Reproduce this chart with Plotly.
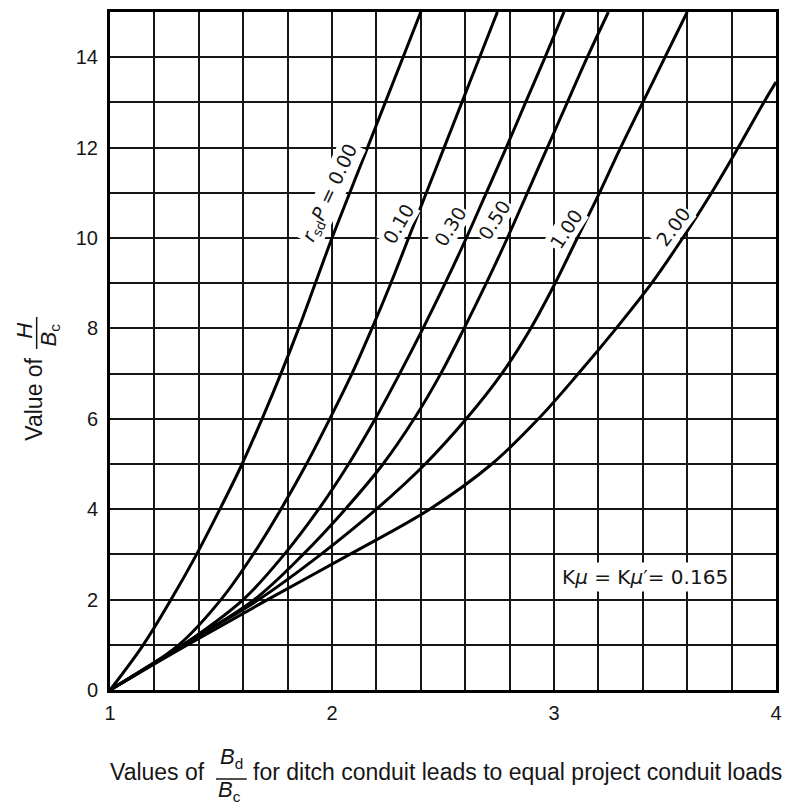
import plotly.graph_objects as go

# H/Bc levels (y) at which x = Bd/Bc was read for each curve
y_levels = [0, 1, 2, 3, 4, 5, 6, 7, 8, 9, 10, 11, 12, 13, 14, 15]

x_000 = [1.00, 1.15, 1.275, 1.39, 1.495, 1.595, 1.685, 1.77, 1.85, 1.925, 2.00, 2.08, 2.16, 2.24, 2.32, 2.40]
x_010 = [1.00, 1.31, 1.50, 1.645, 1.77, 1.885, 1.99, 2.09, 2.18, 2.265, 2.345, 2.425, 2.505, 2.585, 2.665, 2.745]
x_030 = [1.00, 1.33, 1.60, 1.785, 1.94, 2.075, 2.195, 2.305, 2.41, 2.51, 2.605, 2.695, 2.785, 2.872, 2.96, 3.045]
x_050 = [1.00, 1.33, 1.65, 1.87, 2.06, 2.23, 2.37, 2.49, 2.595, 2.695, 2.79, 2.88, 2.97, 3.06, 3.15, 3.245]
x_100 = [1.00, 1.33, 1.67, 1.95, 2.20, 2.42, 2.605, 2.765, 2.895, 3.005, 3.105, 3.205, 3.30, 3.40, 3.50, 3.60]
y_200 = [0, 1, 2, 3, 4, 5, 6, 7, 8, 9, 10, 11, 12, 13, 13.45]
x_200 = [1.00, 1.35, 1.71, 2.08, 2.44, 2.72, 2.93, 3.11, 3.28, 3.44, 3.58, 3.71, 3.83, 3.945, 4.00]

curves = [
    (x_000, y_levels),
    (x_010, y_levels),
    (x_030, y_levels),
    (x_050, y_levels),
    (x_100, y_levels),
    (x_200, y_200),
]

label_text = ["<i>r</i><sub>sd</sub><i>P</i> = 0.00", "0.10", "0.30", "0.50", "1.00", "2.00"]
label_x = [1.995, 2.30, 2.53, 2.73, 3.055, 3.535]
label_y = [11.0, 10.3, 10.25, 10.4, 10.2, 10.25]
label_angle = [-65, -60, -58, -58, -57, -53]

x_ticks = [1, 2, 3, 4]
y_ticks = [0, 2, 4, 6, 8, 10, 12, 14]

FONT = "Liberation Sans, Arial, sans-serif"
LFONT = "DejaVu Sans, sans-serif"
INK = "#161616"

fig = go.Figure()
for xs, ys in curves:
    fig.add_trace(go.Scatter(x=xs, y=ys, mode="lines",
                             line=dict(color="black", width=3, shape="spline", smoothing=1.0),
                             showlegend=False, hoverinfo="skip"))

for t, lx, ly, ang in zip(label_text, label_x, label_y, label_angle):
    fig.add_annotation(x=lx, y=ly, text=t, textangle=ang, showarrow=False,
                       font=dict(family=LFONT, size=19, color=INK),
                       bgcolor="white", borderpad=1)

fig.add_annotation(x=3.41, y=2.5, text="K<i>\u03bc</i> = K<i>\u03bc</i>\u2032= 0.165",
                   showarrow=False, font=dict(family=LFONT, size=20, color=INK),
                   bgcolor="white", borderpad=2)

W, H = 791, 805
L, R, T, B = 110, 9, 12, 115
pw, ph = W - L - R, H - T - B


def px(xp):
    return (xp - L) / pw


def py(yp):
    return (H - B - yp) / ph


tfont = dict(family=FONT, size=23, color=INK)
ffont = dict(family=FONT, size=22, color=INK)
# x-axis title pieces
fig.add_annotation(xref="paper", yref="paper", x=px(208), y=py(772), xanchor="right", yanchor="middle",
                   text="Values of", showarrow=False, font=tfont)
fig.add_annotation(xref="paper", yref="paper", x=px(233), y=py(758), xanchor="center", yanchor="middle",
                   text="<i>B</i><sub>d</sub>", showarrow=False, font=ffont)
fig.add_annotation(xref="paper", yref="paper", x=px(231), y=py(791), xanchor="center", yanchor="middle",
                   text="<i>B</i><sub>c</sub>", showarrow=False, font=ffont)
fig.add_shape(type="line", xref="paper", yref="paper", x0=px(217), x1=px(248), y0=py(779), y1=py(779),
              line=dict(color=INK, width=1.5))
fig.add_annotation(xref="paper", yref="paper", x=px(252), y=py(772), xanchor="left", yanchor="middle",
                   text="for ditch conduit leads to equal project conduit loads", showarrow=False, font=tfont)

# y-axis title pieces
fig.add_annotation(xref="paper", yref="paper", x=px(33), y=py(399), xanchor="center", yanchor="middle",
                   text="Value of", textangle=-90, showarrow=False, font=tfont)
fig.add_annotation(xref="paper", yref="paper", x=px(23), y=py(331), xanchor="center", yanchor="middle",
                   text="<i>H</i>", textangle=-90, showarrow=False, font=ffont)
fig.add_annotation(xref="paper", yref="paper", x=px(49), y=py(335), xanchor="center", yanchor="middle",
                   text="<i>B</i><sub>c</sub>", textangle=-90, showarrow=False, font=ffont)
fig.add_shape(type="line", xref="paper", yref="paper", x0=px(36), x1=px(36), y0=py(317), y1=py(349),
              line=dict(color=INK, width=1.5))

grid = dict(gridcolor=INK, gridwidth=1.7)
fig.update_xaxes(range=[1, 4], tickvals=x_ticks, ticks="", showline=True, linecolor="black", linewidth=3,
                 mirror=True, showgrid=True, zeroline=False, ticklabelstandoff=3,
                 tickfont=dict(family=FONT, size=20, color=INK),
                 minor=dict(dtick=0.2, tick0=1, showgrid=True, ticks="", **grid), **grid)
fig.update_yaxes(range=[0, 15], tickvals=y_ticks, ticks="", showline=True, linecolor="black", linewidth=3,
                 mirror=True, showgrid=True, zeroline=False, ticklabelstandoff=5,
                 tickfont=dict(family=FONT, size=20, color=INK),
                 minor=dict(dtick=1, tick0=0, showgrid=True, ticks="", **grid), **grid)

fig.update_layout(width=W, height=H, margin=dict(l=L, r=R, t=T, b=B),
                  paper_bgcolor="white", plot_bgcolor="white", showlegend=False)

fig.write_html("out.html")
